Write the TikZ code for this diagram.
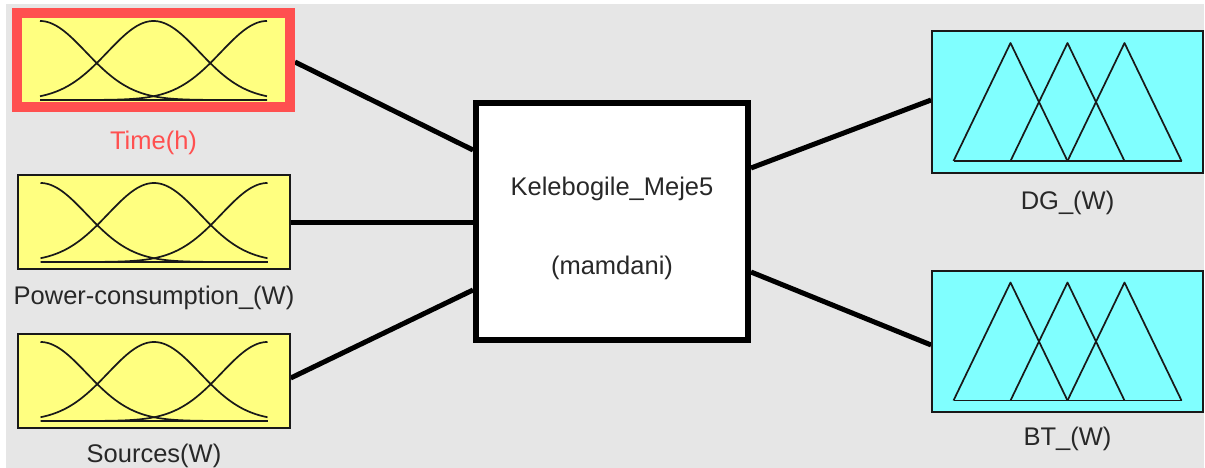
\documentclass[tikz,border=0pt]{standalone}
\usepackage{fontspec}
\setmainfont{Liberation Sans}
\usetikzlibrary{calc}
\definecolor{panel}{RGB}{230,230,230}
\definecolor{mfyellow}{RGB}{255,255,128}
\definecolor{mfcyan}{RGB}{128,255,255}
\definecolor{selred}{RGB}{255,80,80}
\definecolor{ink}{RGB}{25,25,25}
\definecolor{txt}{RGB}{40,40,40}
\pgfdeclarelayer{back}
\pgfdeclarelayer{wires}
\pgfsetlayers{back,wires,main}

% three Gaussian membership functions inside a variable box
\newcommand\gaussset[1]{%
  \begin{scope}[shift={(#1.center)}]
    \foreach \m in {-113.5,0,113.5}
      \draw[mfline] plot[domain=-113.5:113.5,samples=90,smooth]
        (\x,{40-79*exp(-0.5*((\x-\m)/46)^2)});
    \draw[mfline] (-113.5,40) -- (113.5,40);
  \end{scope}}

% three triangular membership functions inside an output box
\newcommand\triset[1]{%
  \begin{scope}[shift={(#1.center)}]
    \foreach \a in {-57,0,57}
      \draw[mfline] (\a-57,59) -- (\a,-59) -- (\a+57,59);
    \draw[mfline] (-114,59) -- (114,59);
  \end{scope}}

\begin{document}
\begin{tikzpicture}[x=1pt,y=-1pt,
  every node/.style={font=\fontsize{25.5}{30}\selectfont, text=txt},
  inbox/.style={draw=ink, line width=1.5pt, fill=mfyellow, inner sep=0pt,
    minimum width=272pt, minimum height=94pt},
  selbox/.style={draw=selred, line width=10pt, fill=mfyellow, inner sep=0pt,
    minimum width=273pt, minimum height=94pt},
  outbox/.style={draw=ink, line width=1.8pt, fill=mfcyan, inner sep=0pt,
    minimum width=271pt, minimum height=142pt},
  fisbox/.style={draw=black, line width=6pt, fill=white, inner sep=0pt,
    minimum width=272pt, minimum height=237pt},
  varlabel/.style={inner sep=0pt},
  wire/.style={draw=black, line width=5pt},
  mfline/.style={draw=ink, line width=1.7pt, line join=round}
]
\useasboundingbox (0,0) rectangle (1205,468);
\begin{pgfonlayer}{back}
  \fill[white] (0,0) rectangle (1205,468);
  \fill[panel] (6,4) rectangle (1204,468);
\end{pgfonlayer}

% input variables
\node[selbox] (time) at (153.5,60) {};
\node[inbox] (power) at (154,222) {};
\node[inbox] (sources) at (154,381) {};
\gaussset{time}
\gaussset{power}
\gaussset{sources}
\node[varlabel, text=selred] (timelbl) at ($(time.south)+(0,31)$) {Time(h)};
\node[varlabel] (powerlbl) at ($(power.south)+(0,28)$) {Power-consumption\_(W)};
\node[varlabel] (sourceslbl) at ($(sources.south)+(0,27)$) {Sources(W)};

% inference system
\node[fisbox] (fis) at (612,221.5) {};
\node[inner sep=0pt] (fisname) at ($(fis.center)+(0,-33)$) {Kelebogile\_Meje5};
\node[inner sep=0pt] (fistype) at ($(fis.center)+(0,46)$) {(mamdani)};

% output variables
\node[outbox] (dg) at (1067.5,102) {};
\node[outbox, minimum height=141pt] (bt) at (1067.5,341.5) {};
\triset{dg}
\triset{bt}
\node[varlabel] (dglbl) at ($(dg.south)+(0,29)$) {DG\_(W)};
\node[varlabel] (btlbl) at ($(bt.south)+(0,26)$) {BT\_(W)};

% connections
\begin{pgfonlayer}{wires}
  \draw[wire] ($(time.east)+(0,2)$) -- ($(fis.west)+(0,-71.5)$);
  \draw[wire] (power.east) -- ($(fis.west)+(0,0.5)$);
  \draw[wire] ($(sources.east)+(0,-3)$) -- ($(fis.west)+(0,68.5)$);
  \draw[wire] ($(fis.east)+(0,-53.5)$) -- ($(dg.west)+(0,-2)$);
  \draw[wire] ($(fis.east)+(0,50.5)$) -- ($(bt.west)+(0,3.5)$);
\end{pgfonlayer}
\end{tikzpicture}
\end{document}
